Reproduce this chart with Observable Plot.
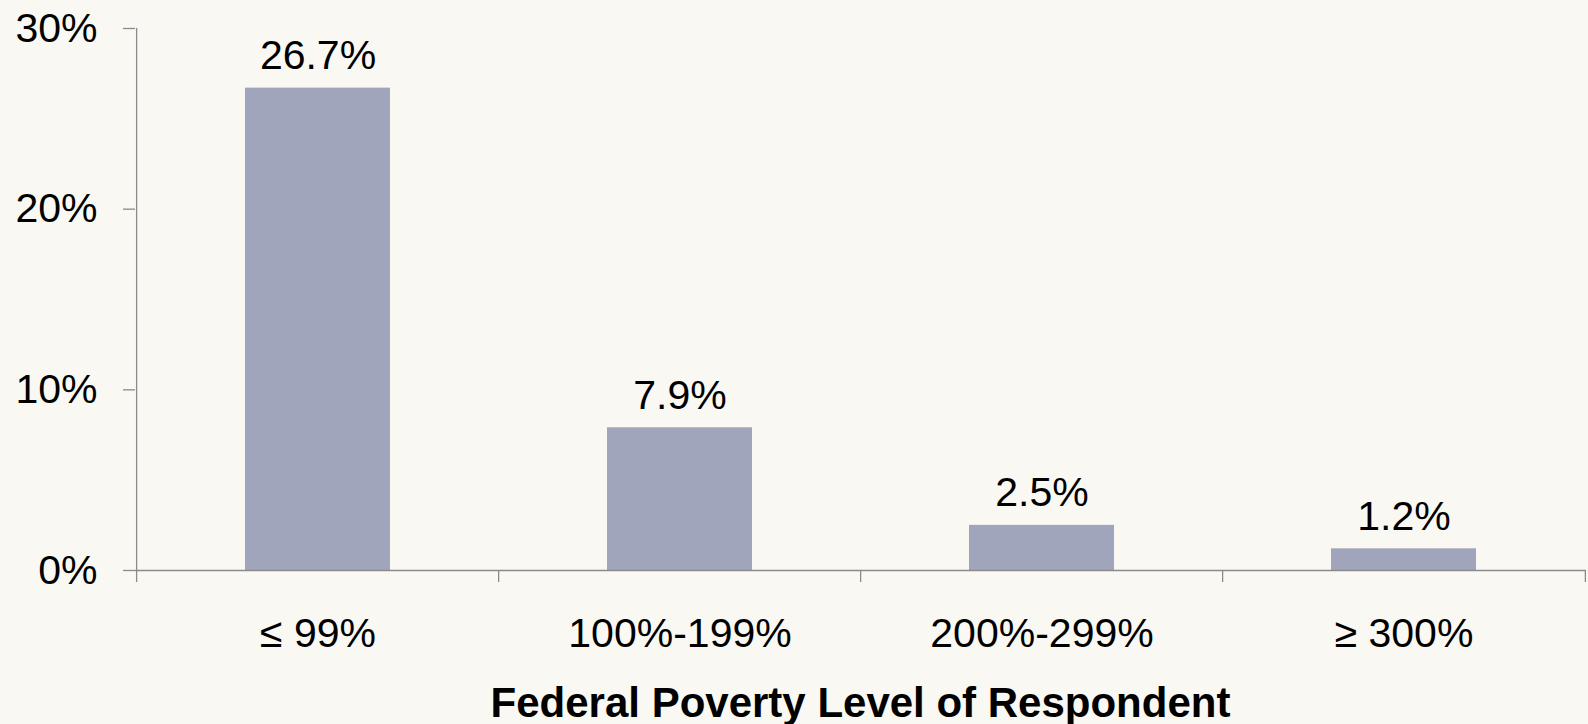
<!DOCTYPE html>
<html>
<head>
<meta charset="utf-8">
<script src="https://cdn.jsdelivr.net/npm/d3@7"></script>
<script src="https://cdn.jsdelivr.net/npm/@observablehq/plot@0.6"></script>
<style>
  html, body { margin: 0; padding: 0; background: #f9f8f3; }
  body { width: 1588px; height: 724px; overflow: hidden; font-family: "Liberation Sans", Arial, sans-serif; }
  #title { box-sizing: border-box; width: 1588px; height: 59px; padding: 14px 2px 0 135px; line-height: 42px;
           font: 700 42px "Liberation Sans", Arial, sans-serif; text-align: center; color: #000; }
</style>
</head>
<body>
<div id="chart"></div>
<div id="title">Federal Poverty Level of Respondent</div>
<script>
const categories = ["≤ 99%", "100%-199%", "200%-299%", "≥ 300%"];
const values = [26.7, 7.9, 2.5, 1.2];
const yTicks = [0, 10, 20, 30];

const data = categories.map((c, i) => ({category: c, value: values[i]}));

const W = 1588, H = 665, ML = 135, MR = 2, MT = 28, MB = 95;
const half = (W - ML - MR) / categories.length / 2;
const axisGray = "#8a8a8a";

const chart = Plot.plot({
  width: W,
  height: H,
  marginLeft: ML,
  marginRight: MR,
  marginTop: MT,
  marginBottom: MB,
  style: {background: "#f9f8f3", fontFamily: "'Liberation Sans', Arial, sans-serif", color: "#000", overflow: "visible"},
  x: {domain: categories, paddingInner: 0.6, paddingOuter: 0.3, label: null},
  y: {domain: [0, 30], label: null},
  marks: [
    Plot.barY(data, {x: "category", y: "value", fill: "#a1a5bc"}),
    Plot.ruleY([0], {stroke: axisGray, strokeWidth: 1.3}),
    // y axis line (extends below baseline like a category tick)
    Plot.ruleX([categories[0]], {dx: -half, y1: 30, y2: 0, insetBottom: -12, stroke: axisGray, strokeWidth: 1.3}),
    // category boundary ticks
    Plot.ruleX(categories.slice(1), {dx: -half, y1: 0, y2: 0, insetBottom: -12, stroke: axisGray, strokeWidth: 1.3}),
    Plot.ruleX([categories[categories.length - 1]], {dx: half, y1: 0, y2: 0, insetBottom: -12, stroke: axisGray, strokeWidth: 1.3}),
    Plot.axisY({ticks: yTicks, tickSize: 12, tickPadding: 26, tickFormat: d => d + "%", fontSize: 41, stroke: axisGray, strokeWidth: 1.3, fill: "#000", label: null}),
    Plot.axisX({tickSize: 0, tickPadding: 47, fontSize: 41, fill: "#000", label: null}),
    Plot.text(data, {x: "category", y: "value", text: d => d.value.toFixed(1) + "%", lineAnchor: "bottom", dy: -19, fontSize: 41, fill: "#000"})
  ]
});
document.getElementById("chart").appendChild(chart);
</script>
</body>
</html>
